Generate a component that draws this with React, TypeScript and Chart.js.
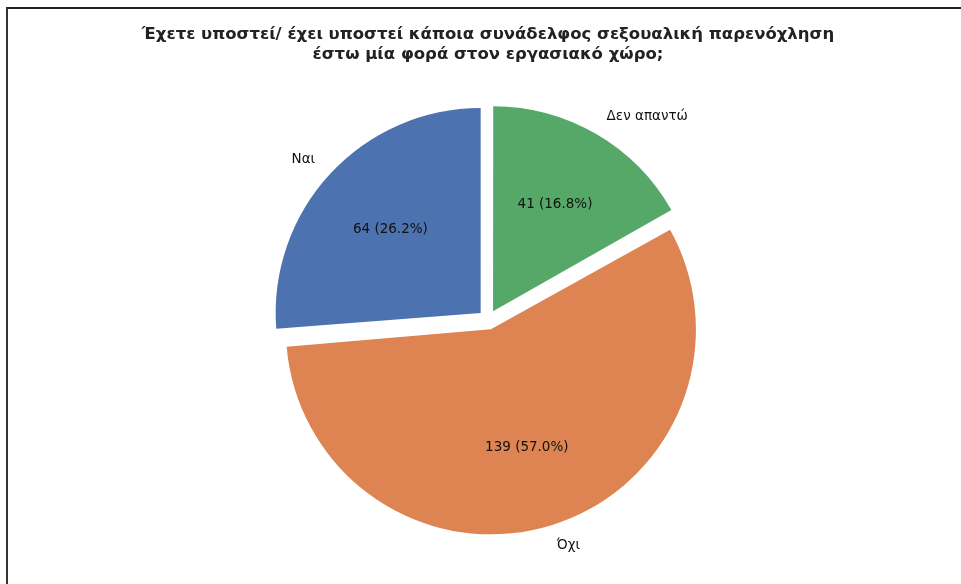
import { useEffect, useRef } from 'react';
import { Chart, registerables } from 'chart.js';

Chart.register(...registerables);

const TITLE_LINES = [
  'Έχετε υποστεί/ έχει υποστεί κάποια συνάδελφος σεξουαλική παρενόχληση',
  'έστω μία φορά στον εργασιακό χώρο;',
];
const CATEGORIES = ['Ναι', 'Όχι', 'Δεν απαντώ'];
const COUNTS = [64, 139, 41];
const COLORS = ['#4c72b0', '#dd8452', '#55a868'];

const FONT = "'DejaVu Sans', sans-serif";
const PIE_RADIUS = 205;
const EXPLODE = 40; // chart.js shifts by offset/4

const radiusFix = {
  id: 'radiusFix',
  afterDatasetUpdate(chart: any, args: any) {
    const meta = chart.getDatasetMeta(args.index);
    meta.data.forEach((arc: any) => {
      const circ = arc.endAngle - arc.startAngle;
      const off = ((arc.options && arc.options.offset) || 0) / 4;
      const fix = 1 - Math.sin(Math.min(Math.PI, circ));
      arc.outerRadius = arc.outerRadius - off * fix;
    });
  },
};

const pieLabels = {
  id: 'pieLabels',
  afterDatasetsDraw(chart: any) {
    const ctx = chart.ctx;
    const meta = chart.getDatasetMeta(0);
    const data = chart.data.datasets[0].data as number[];
    const labels = chart.data.labels as string[];
    const total = data.reduce((a, b) => a + b, 0);
    ctx.save();
    ctx.font = `13.5px ${FONT}`;
    ctx.fillStyle = '#111';
    meta.data.forEach((arc: any, i: number) => {
      const mid = (arc.startAngle + arc.endAngle) / 2;
      const shift = ((arc.options && arc.options.offset) || 0) / 4;
      const cx = arc.x + Math.cos(mid) * shift;
      const cy = arc.y + Math.sin(mid) * shift;
      const r = PIE_RADIUS;
      const v = data[i];
      const pct = ((v / total) * 100).toFixed(1);
      ctx.textAlign = 'center';
      ctx.textBaseline = 'middle';
      ctx.fillText(`${v} (${pct}%)`, cx + Math.cos(mid) * r * 0.6, cy + Math.sin(mid) * r * 0.6);
      const lx = Math.cos(mid) * r * 1.1;
      ctx.textAlign = lx > 0 ? 'left' : 'right';
      ctx.fillText(labels[i], cx + lx, cy + Math.sin(mid) * r * 1.1);
    });
    ctx.restore();
  },
};

export default function App() {
  const ref = useRef<HTMLCanvasElement>(null);
  useEffect(() => {
    if (!ref.current) return;
    // clockwise from top: Δεν απαντώ, Όχι, Ναι (matplotlib counterclockwise from 90°)
    const order = [2, 1, 0];
    const chart = new Chart(ref.current, {
      type: 'pie',
      data: {
        labels: order.map((i) => CATEGORIES[i]),
        datasets: [
          {
            data: order.map((i) => COUNTS[i]),
            backgroundColor: order.map((i) => COLORS[i]),
            borderWidth: 0,
            offset: EXPLODE,
          },
        ],
      },
      options: {
        responsive: false,
        animation: false,
        devicePixelRatio: 1,
        events: [],
        radius: PIE_RADIUS,
        layout: { padding: { left: 15, right: 0, top: 15, bottom: 19 } },
        plugins: {
          legend: { display: false },
          tooltip: { enabled: false },
          title: {
            display: true,
            text: TITLE_LINES,
            color: '#222',
            font: { family: FONT, size: 16.5, weight: 'bold', lineHeight: 1.2 },
            padding: { top: 10, bottom: 10 },
          },
        },
      } as any,
      plugins: [radiusFix, pieLabels],
    });
    return () => chart.destroy();
  }, []);
  return (
    <div style={{ position: 'fixed', left: 0, top: 0, width: 961, height: 584, background: '#fff' }}>
      <canvas ref={ref} width={961} height={584} style={{ position: 'absolute', left: 0, top: 0 }} />
      <div
        style={{
          position: 'absolute',
          left: 6,
          top: 7,
          right: 0,
          bottom: 0,
          borderTop: '2px solid #222',
          borderLeft: '2px solid #333',
          pointerEvents: 'none',
        }}
      />
    </div>
  );
}
